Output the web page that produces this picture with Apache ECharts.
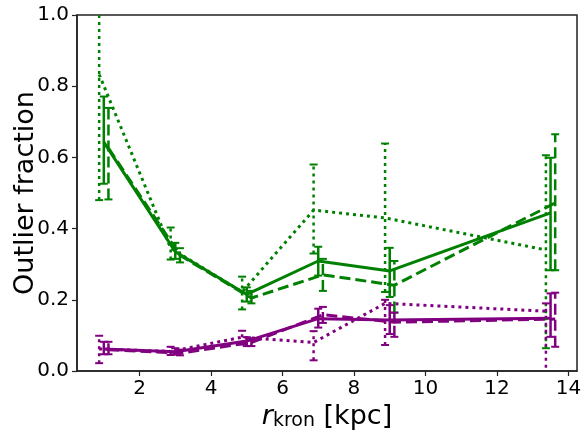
<!DOCTYPE html>
<html>
<head>
<meta charset="utf-8">
<script src="https://cdn.jsdelivr.net/npm/echarts@6/dist/echarts.min.js"></script>
<style>
  html, body { margin: 0; padding: 0; background: #fff; }
  #chart { width: 587px; height: 437px; }
</style>
</head>
<body>
<div id="chart"></div>
<script>
// x positions (dotted / solid / dashed samples are slightly offset)
const xDotted = [0.87, 2.87, 4.87, 6.87, 8.87, 13.37];
const xSolid = [1.0, 3.0, 5.0, 7.0, 9.0, 13.5];
const xDashed = [1.13, 3.13, 5.13, 7.13, 9.13, 13.63];
const xTicks = [2, 4, 6, 8, 10, 12, 14];

// green
const greenSolid = [0.643, 0.335, 0.215, 0.309, 0.281, 0.444];
const greenSolidLo = [0.526, 0.315, 0.195, 0.268, 0.208, 0.283];
const greenSolidHi = [0.771, 0.36, 0.235, 0.349, 0.346, 0.599];
const greenDashed = [0.626, 0.325, 0.205, 0.27, 0.241, 0.472];
const greenDashedLo = [0.482, 0.305, 0.19, 0.225, 0.164, 0.283];
const greenDashedHi = [0.739, 0.345, 0.225, 0.315, 0.309, 0.665];
const greenDotted = [0.833, 0.345, 0.222, 0.452, 0.43, 0.34];
const greenDottedLo = [0.48, 0.313, 0.173, 0.33, 0.222, 0.064];
const greenDottedHi = [1.1, 0.403, 0.265, 0.58, 0.639, 0.606];

// purple
const purpleSolid = [0.062, 0.054, 0.084, 0.147, 0.143, 0.148];
const purpleSolidLo = [0.047, 0.046, 0.07, 0.122, 0.104, 0.096];
const purpleSolidHi = [0.082, 0.064, 0.095, 0.175, 0.185, 0.218];
const purpleDashed = [0.06, 0.05, 0.08, 0.158, 0.137, 0.146];
const purpleDashedLo = [0.047, 0.044, 0.07, 0.135, 0.096, 0.068];
const purpleDashedHi = [0.082, 0.06, 0.092, 0.18, 0.164, 0.22];
const purpleDotted = [0.062, 0.055, 0.095, 0.08, 0.19, 0.168];
const purpleDottedLo = [0.022, 0.045, 0.075, 0.03, 0.073, -0.05];
const purpleDottedHi = [0.099, 0.068, 0.113, 0.112, 0.2, 0.19];

const GREEN = '#008000';
const PURPLE = '#800080';
const styles = {
  solid: { type: 'solid', dash: null },
  dashed: { type: [11, 5], dash: [11, 5] },
  dotted: { type: [3, 4], dash: [3, 4] }
};

function pairs(xs, ys) {
  return xs.map((x, i) => [x, ys[i]]);
}

function lineSeries(xs, ys, color, kind) {
  return {
    type: 'line',
    data: pairs(xs, ys),
    showSymbol: false,
    symbol: 'none',
    silent: true,
    z: 3,
    lineStyle: { color: color, width: 3, type: styles[kind].type, cap: 'butt' }
  };
}

function errSeries(xs, lo, hi, color, kind) {
  return {
    type: 'custom',
    clip: true,
    silent: true,
    z: 4,
    data: xs.map((x, i) => [x, lo[i], hi[i]]),
    renderItem: function (params, api) {
      const x = api.value(0);
      const a = api.coord([x, api.value(1)]);
      const b = api.coord([x, api.value(2)]);
      const st = { stroke: color, lineWidth: 2.5, lineDash: styles[kind].dash };
      const cap = { stroke: color, lineWidth: 2 };
      const w = 4;
      return {
        type: 'group',
        children: [
          { type: 'line', shape: { x1: a[0], y1: a[1], x2: b[0], y2: b[1] }, style: st },
          { type: 'line', shape: { x1: a[0] - w, y1: a[1], x2: a[0] + w, y2: a[1] }, style: cap },
          { type: 'line', shape: { x1: b[0] - w, y1: b[1], x2: b[0] + w, y2: b[1] }, style: cap }
        ]
      };
    }
  };
}

const chart = echarts.init(document.getElementById('chart'), null, { renderer: 'canvas' });

const FONT = 'DejaVu Sans';

chart.setOption({
  animation: false,
  backgroundColor: '#fff',
  textStyle: { fontFamily: FONT },
  grid: {
    left: 77, right: 10, top: 15, bottom: 66,
    outerBoundsMode: 'none',
    containLabel: false,
    show: true, borderColor: '#222', borderWidth: 1.5, backgroundColor: 'transparent'
  },
  xAxis: {
    type: 'value',
    min: 0.25,
    max: 14.24,
    splitLine: { show: false },
    axisLine: { lineStyle: { color: '#222', width: 1.5 } },
    axisTick: { inside: false, length: 5, lineStyle: { color: '#222', width: 1.2 }, customValues: xTicks },
    axisLabel: {
      customValues: xTicks, color: '#000', fontSize: 20, fontFamily: FONT, margin: 8
    },
    name: '{r|r}{sub|kron}{n| [kpc]}',
    nameLocation: 'middle',
    nameGap: 23,
    nameTextStyle: {
      color: '#000',
      rich: {
        r: { fontSize: 27, fontStyle: 'italic', fontFamily: FONT, color: '#000', verticalAlign: 'bottom', lineHeight: 30 },
        sub: { fontSize: 19, fontFamily: FONT, color: '#000', verticalAlign: 'bottom', lineHeight: 22 },
        n: { fontSize: 27, fontFamily: FONT, color: '#000', verticalAlign: 'bottom', lineHeight: 30 }
      }
    }
  },
  yAxis: {
    type: 'value',
    min: 0,
    max: 1,
    interval: 0.2,
    splitLine: { show: false },
    axisLine: { show: true, lineStyle: { color: '#222', width: 1.5 } },
    axisTick: { show: true, inside: false, length: 5, lineStyle: { color: '#222', width: 1.2 } },
    axisLabel: {
      color: '#000', fontSize: 20, fontFamily: FONT, margin: 8,
      formatter: v => v.toFixed(1)
    },
    name: 'Outlier fraction',
    nameLocation: 'middle',
    nameMoveOverlap: false,
    nameGap: 38,
    nameTextStyle: { color: '#000', fontSize: 27, fontFamily: FONT }
  },
  series: [
    lineSeries(xDotted, greenDotted, GREEN, 'dotted'),
    errSeries(xDotted, greenDottedLo, greenDottedHi, GREEN, 'dotted'),
    lineSeries(xSolid, greenSolid, GREEN, 'solid'),
    errSeries(xSolid, greenSolidLo, greenSolidHi, GREEN, 'solid'),
    lineSeries(xDashed, greenDashed, GREEN, 'dashed'),
    errSeries(xDashed, greenDashedLo, greenDashedHi, GREEN, 'dashed'),
    lineSeries(xDotted, purpleDotted, PURPLE, 'dotted'),
    errSeries(xDotted, purpleDottedLo, purpleDottedHi, PURPLE, 'dotted'),
    lineSeries(xSolid, purpleSolid, PURPLE, 'solid'),
    errSeries(xSolid, purpleSolidLo, purpleSolidHi, PURPLE, 'solid'),
    lineSeries(xDashed, purpleDashed, PURPLE, 'dashed'),
    errSeries(xDashed, purpleDashedLo, purpleDashedHi, PURPLE, 'dashed')
  ]
});
</script>
</body>
</html>
